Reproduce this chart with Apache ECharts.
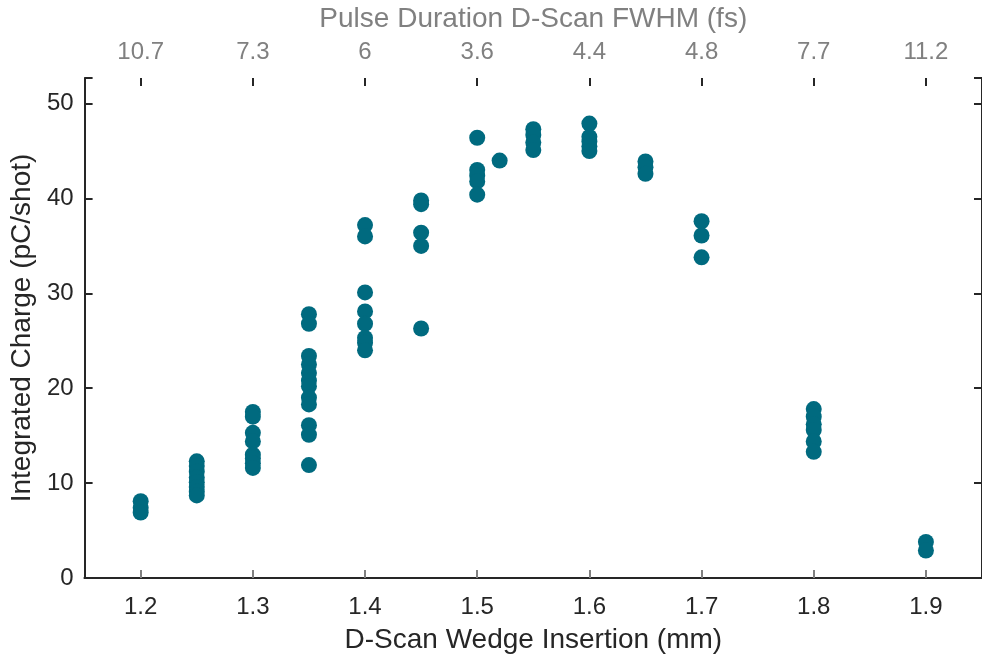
<!DOCTYPE html>
<html>
<head>
<meta charset="utf-8">
<script src="https://cdn.jsdelivr.net/npm/echarts@6/dist/echarts.min.js"></script>
<style>html,body{margin:0;padding:0;background:#fff;}#c{width:982px;height:663px;}</style>
</head>
<body>
<div id="c"></div>
<script>
// Wedge insertion positions (mm)
const insertions = [1.2, 1.25, 1.3, 1.35, 1.4, 1.45, 1.5, 1.52, 1.55, 1.6, 1.65, 1.7, 1.8, 1.9];
// Integrated charge (pC/shot) measured at each insertion
const charges = [
  [8.1, 7.4, 6.9],
  [12.3, 11.8, 11.2, 10.6, 10.1, 9.6, 9.1, 8.7],
  [17.5, 17.0, 15.3, 14.4, 13.0, 12.6, 12.1, 11.6],
  [27.8, 26.8, 23.4, 22.5, 21.6, 20.8, 20.2, 19.0, 18.3, 16.1, 15.1, 11.9],
  [37.2, 36.0, 30.1, 28.1, 26.8, 25.3, 24.8, 24.0],
  [39.8, 39.4, 36.4, 35.0, 26.3],
  [46.4, 43.0, 42.4, 41.8, 40.4],
  [44.0],
  [47.3, 46.7, 45.9, 45.1],
  [47.9, 46.5, 46.0, 45.5, 45.0],
  [43.9, 43.3, 42.6],
  [37.6, 36.1, 33.8],
  [17.8, 17.0, 16.2, 15.6, 14.4, 13.3],
  [3.8, 2.9]
];
// Top axis: pulse duration labels at insertion ticks
const topTickPositions = [1.2, 1.3, 1.4, 1.5, 1.6, 1.7, 1.8, 1.9];
const topTickLabels = ['10.7', '7.3', '6', '3.6', '4.4', '4.8', '7.7', '11.2'];
const bottomTicks = [1.2, 1.3, 1.4, 1.5, 1.6, 1.7, 1.8, 1.9];

const points = [];
insertions.forEach((x, i) => charges[i].forEach(y => points.push([x, y])));

const FONT = 'Liberation Sans';
const DARK = '#262626';
const GRAY = '#808080';
const XMIN = 1.15, XMAX = 1.95, YMIN = 0, YMAX = 52.7;

const chart = echarts.init(document.getElementById('c'), null, {renderer: 'canvas'});
chart.setOption({
  animation: false,
  grid: {left: 84, top: 73, width: 900, height: 505, containLabel: false},
  xAxis: [
    {
      type: 'value', position: 'bottom', min: XMIN, max: XMAX,
      name: 'D-Scan Wedge Insertion (mm)', nameLocation: 'middle', nameGap: 48,
      nameTextStyle: {fontFamily: FONT, fontSize: 28, color: DARK},
      axisLine: {show: true, lineStyle: {color: DARK, width: 2}},
      axisTick: {show: true, inside: true, length: 8, lineStyle: {color: DARK, width: 2}, customValues: bottomTicks},
      axisLabel: {fontFamily: FONT, fontSize: 24, color: DARK, margin: 17, customValues: bottomTicks,
        formatter: v => v.toFixed(1)},
      splitLine: {show: false}
    },
    {
      type: 'value', position: 'top', min: XMIN, max: XMAX,
      name: 'Pulse Duration D-Scan FWHM (fs)', nameLocation: 'middle', nameGap: 45,
      nameTextStyle: {fontFamily: FONT, fontSize: 28, color: GRAY},
      axisLine: {show: true, lineStyle: {color: DARK, width: 2}},
      axisTick: {show: true, inside: false, length: 8, lineStyle: {color: GRAY, width: 2}, customValues: topTickPositions},
      axisLabel: {fontFamily: FONT, fontSize: 24, color: GRAY, margin: 14, customValues: topTickPositions,
        formatter: v => {
          const idx = topTickPositions.findIndex(p => Math.abs(p - v) < 1e-6);
          return idx >= 0 ? topTickLabels[idx] : '';
        }},
      splitLine: {show: false}
    },
    {
      type: 'value', position: 'top', min: XMIN, max: XMAX,
      axisLine: {show: false},
      axisTick: {show: true, inside: true, length: 8, lineStyle: {color: DARK, width: 2}, customValues: topTickPositions},
      axisLabel: {show: false},
      splitLine: {show: false}
    }
  ],
  yAxis: [
    {
      type: 'value', position: 'left', min: YMIN, max: YMAX, interval: 10,
      name: 'Integrated Charge (pC/shot)', nameLocation: 'middle', nameGap: 41, nameRotate: 90,
      nameTextStyle: {fontFamily: FONT, fontSize: 28, color: DARK},
      axisLine: {show: true, lineStyle: {color: DARK, width: 2}},
      axisTick: {show: true, inside: true, length: 8, lineStyle: {color: DARK, width: 2}},
      axisLabel: {fontFamily: FONT, fontSize: 24, color: DARK, margin: 11,
        formatter: v => (v % 10 === 0 ? String(v) : '')},
      splitLine: {show: false}
    },
    {
      type: 'value', position: 'right', min: YMIN, max: YMAX, interval: 10,
      axisLine: {show: true, lineStyle: {color: DARK, width: 2}},
      axisTick: {show: true, inside: true, length: 8, lineStyle: {color: DARK, width: 2}},
      axisLabel: {show: false},
      splitLine: {show: false}
    }
  ],
  series: [{
    type: 'scatter',
    xAxisIndex: 0, yAxisIndex: 0,
    data: points,
    symbol: 'circle',
    symbolSize: 16,
    itemStyle: {color: '#006a7f', opacity: 1},
    emphasis: {disabled: true}
  }]
});
</script>
</body>
</html>
